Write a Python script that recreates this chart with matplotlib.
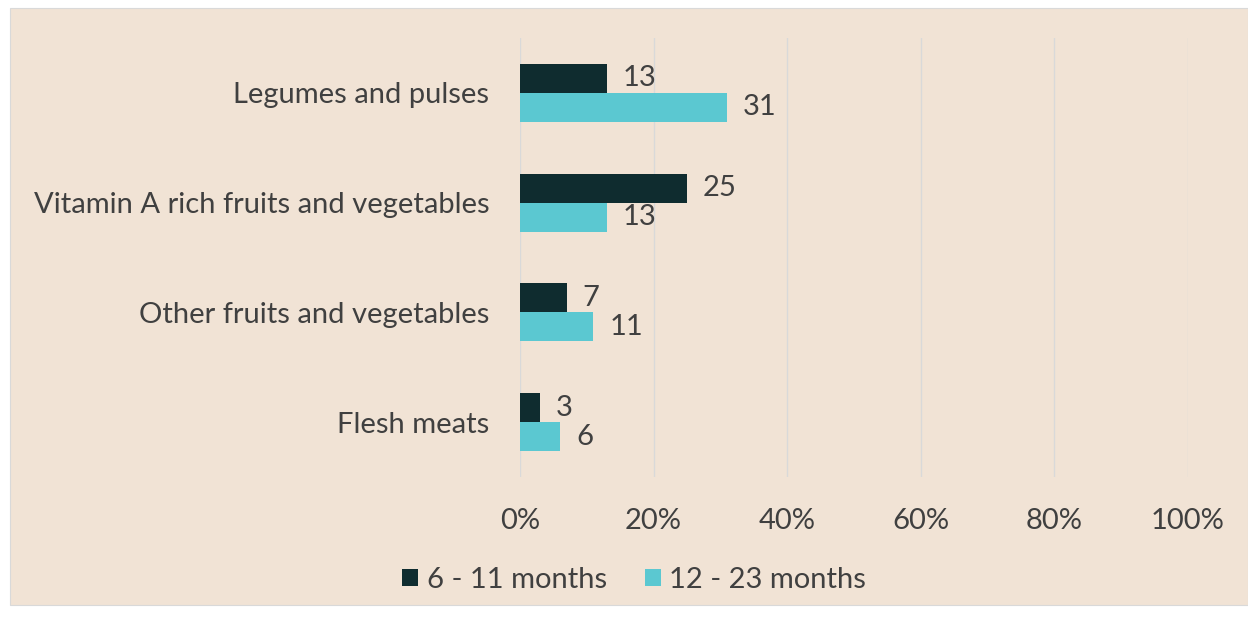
import matplotlib
matplotlib.use("Agg")
import matplotlib.pyplot as plt
from matplotlib.patches import Rectangle
import numpy as np

categories = ["Legumes and pulses", "Vitamin A rich fruits and vegetables",
              "Other fruits and vegetables", "Flesh meats"]
series_names = ["6 - 11 months", "12 - 23 months"]
vals_6_11 = [13, 25, 7, 3]
vals_12_23 = [31, 13, 11, 6]
xticks = [0, 20, 40, 60, 80, 100]
xtick_labels = ["0%", "20%", "40%", "60%", "80%", "100%"]

dark = "#0f2c2f"
light = "#5bc8d1"
bg = "#f1e3d5"
text_c = "#404040"
grid_c = "#d9d9d9"
FS = 21

plt.rcParams['font.family'] = ['Lato', 'DejaVu Sans']

fig = plt.figure(figsize=(12.48, 6.18), dpi=100)
fig.patch.set_facecolor("white")
fig.patches.append(Rectangle((10/1248, 1-605/618), 1-10/1248, (605-8)/618,
                             transform=fig.transFigure, facecolor=bg,
                             edgecolor="#d9d9d9", linewidth=0.8, zorder=-10))

ax = fig.add_axes([520/1248, 1-477/618, (1188-520)/1248, (477-38)/618])
ax.set_facecolor("none")
ax.set_zorder(1)

y = np.arange(len(categories))
h = 0.265
b1 = ax.barh(y - h/2, vals_6_11, height=h, color=dark, label=series_names[0], zorder=3)
b2 = ax.barh(y + h/2, vals_12_23, height=h, color=light, label=series_names[1], zorder=3)

for bars, vals in ((b1, vals_6_11), (b2, vals_12_23)):
    for rect, v in zip(bars, vals):
        ax.annotate(str(v), (rect.get_width(), rect.get_y() + rect.get_height()/2),
                    xytext=(16, 0), textcoords="offset pixels",
                    ha="left", va="center", fontsize=FS, color=text_c)

ax.set_xlim(0, 100)
ax.set_ylim(len(categories) - 0.5, -0.5)
ax.set_xticks(xticks)
ax.set_xticklabels(xtick_labels, fontsize=FS, color=text_c)
ax.set_yticks(y)
ax.set_yticklabels(categories, fontsize=FS, color=text_c)
ax.tick_params(axis="both", length=0)
ax.tick_params(axis="x", pad=22)
ax.tick_params(axis="y", pad=22)
ax.xaxis.grid(True, color=grid_c, linewidth=1)
ax.set_axisbelow(True)
for s in ax.spines.values():
    s.set_visible(False)

leg = fig.legend(handles=[b1, b2], labels=series_names, loc="center",
                 bbox_to_anchor=(634/1248, 1-580/618), ncol=2, frameon=False,
                 fontsize=FS, handlelength=0.55, handleheight=0.55,
                 handletextpad=0.3, columnspacing=1.3)
for t in leg.get_texts():
    t.set_color(text_c)

fig.savefig("out.png", dpi=100, facecolor=fig.get_facecolor())
